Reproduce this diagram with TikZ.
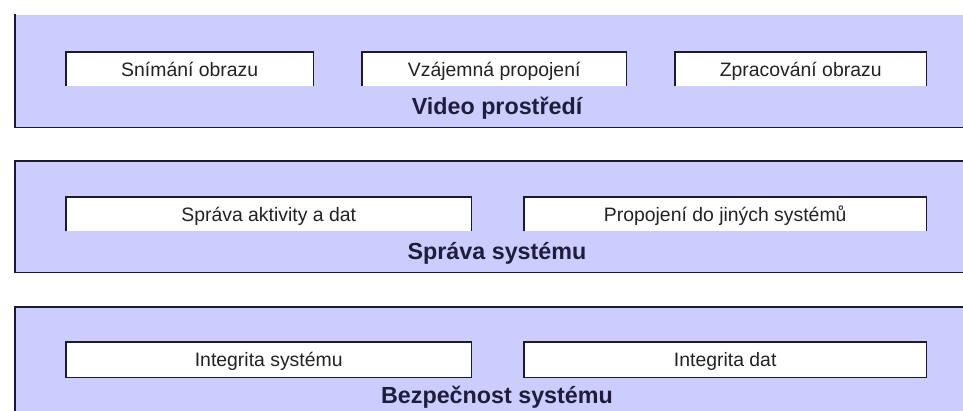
\documentclass[tikz,border=0pt]{standalone}
\usepackage{fontspec}
\setmainfont{Liberation Sans}
\definecolor{bandfill}{HTML}{CCCCFF}
\definecolor{edgecol}{HTML}{1A1A30}
\definecolor{boxtext}{HTML}{222222}
\definecolor{titletext}{HTML}{1E1E3C}
\tikzset{
  band/.style={fill=bandfill, draw=none, inner sep=0pt, anchor=north west},
  edge/.style={draw=edgecol, line width=1.7pt, line cap=rect},
  boxedge/.style={draw=edgecol, line width=1.5pt},
  item/.style={fill=white, draw=none, inner sep=0pt, anchor=north west,
    text=boxtext, font=\fontsize{19.4}{23}\selectfont,
    text height=14pt, text depth=0pt},
  title/.style={anchor=base, inner sep=0pt, text=titletext,
    font=\fontsize{23.3}{28}\selectfont\bfseries}
}
\begin{document}
\begin{tikzpicture}[x=1pt,y=-1pt]
\useasboundingbox (0,0) rectangle (963,411);

% --- bands ---
\node[band, minimum width=948pt, minimum height=112pt] (band1) at (15,15) {};
\node[band, minimum width=948pt, minimum height=111pt] (band2) at (15,161) {};
\node[band, minimum width=948pt, minimum height=104pt] (band3) at (15,307) {};

\draw[edge] (band1.north west) -- (band1.south west) -- (band1.south east);
\draw[edge] (band2.north east) -- (band2.north west) -- (band2.south west) -- (band2.south east);
\draw[edge] (band3.north east) -- (band3.north west) -- (band3.south west);

% --- video layer ---
\node[item, minimum width=247pt, minimum height=34pt] (snim) at (66,52) {Snímání obrazu};
\node[item, minimum width=264pt, minimum height=34pt] (vzaj) at (362,52) {Vzájemná propojení};
\node[item, minimum width=251pt, minimum height=34pt] (zprac) at (675,52) {Zpracování obrazu};
\foreach \b in {snim,vzaj,zprac}
  \draw[boxedge] (\b.south west) -- (\b.north west) -- (\b.north east) -- (\b.south east);
\node[title] (t1) at (497,115) {Video prostředí};

% --- management layer ---
\node[item, minimum width=405pt, minimum height=34pt] (sprava) at (66,197) {Správa aktivity a dat};
\node[item, minimum width=402pt, minimum height=34pt] (propoj) at (524,197) {Propojení do jiných systémů};
\foreach \b in {sprava,propoj}
  \draw[boxedge] (\b.south west) -- (\b.north west) -- (\b.north east) -- (\b.south east);
\node[title] (t2) at (497,259.5) {Správa systému};

% --- security layer ---
\node[item, minimum width=405pt, minimum height=35pt] (intsys) at (66,342) {Integrita systému};
\node[item, minimum width=402pt, minimum height=35pt] (intdat) at (524,342) {Integrita dat};
\foreach \b in {intsys,intdat}
  \draw[boxedge] (\b.south west) rectangle (\b.north east);
\node[title] (t3) at (497,403.5) {Bezpečnost systému};
\end{tikzpicture}
\end{document}
